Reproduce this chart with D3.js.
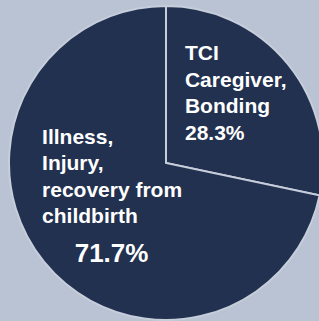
<!DOCTYPE html>
<html>
<head>
<meta charset="utf-8">
<script src="https://cdn.jsdelivr.net/npm/d3@7"></script>
<style>
  html, body { margin: 0; padding: 0; background: #bac3d3; }
  svg { display: block; }
  text { font-family: "Liberation Sans", Arial, sans-serif; font-weight: bold; fill: #ffffff; }
</style>
</head>
<body>
<svg id="chart" width="319" height="321"></svg>
<script>
// data
const categories = ["TCI Caregiver, Bonding", "Illness, Injury, recovery from childbirth"];
const shares = [28.3, 71.7];
const labelLines = [
  ["TCI", "Caregiver,", "Bonding"],
  ["Illness,", "Injury,", "recovery from", "childbirth"]
];

const width = 319, height = 321;
const cx = 166, cy = 163, radius = 157;
const sliceColor = "#22314f";
const borderColor = "#c6cddb";

// label offsets from slice centroid (layout only)
const labelLayout = [
  { dx: -42, dy: -53.5, lineH: 26.5, size: 21, pctInline: true },
  { dx: -63, dy: -68.5, lineH: 26.3, size: 21, pctInline: false, pdx: 6.5, pdy: 49.5, psize: 26 }
];

const svg = d3.select("#chart");
svg.append("rect").attr("width", width).attr("height", height).attr("fill", "#bac3d3");

const pie = d3.pie().sort(null).value(d => d.value);
const arcs = pie(categories.map((c, i) => ({ name: c, value: shares[i] })));

const arc = d3.arc().innerRadius(0).outerRadius(radius);

const g = svg.append("g").attr("transform", `translate(${cx},${cy})`);

g.selectAll("path")
  .data(arcs)
  .enter().append("path")
  .attr("d", arc)
  .attr("fill", sliceColor)
  .attr("stroke", borderColor)
  .attr("stroke-width", 2)
  .attr("stroke-linejoin", "miter");

arcs.forEach((a, i) => {
  const c = arc.centroid(a);
  const L = labelLayout[i];
  const lines = labelLines[i].slice();
  const pct = shares[i].toFixed(1) + "%";
  if (L.pctInline) lines.push(pct);
  const t = g.append("text")
    .attr("font-size", L.size);
  lines.forEach((ln, j) => {
    t.append("tspan")
      .attr("x", c[0] + L.dx)
      .attr("y", c[1] + L.dy + j * L.lineH)
      .text(ln);
  });
  if (!L.pctInline) {
    g.append("text")
      .attr("x", c[0] + L.pdx)
      .attr("y", c[1] + L.pdy)
      .attr("text-anchor", "middle")
      .attr("font-size", L.psize)
      .text(pct);
  }
});
</script>
</body>
</html>
